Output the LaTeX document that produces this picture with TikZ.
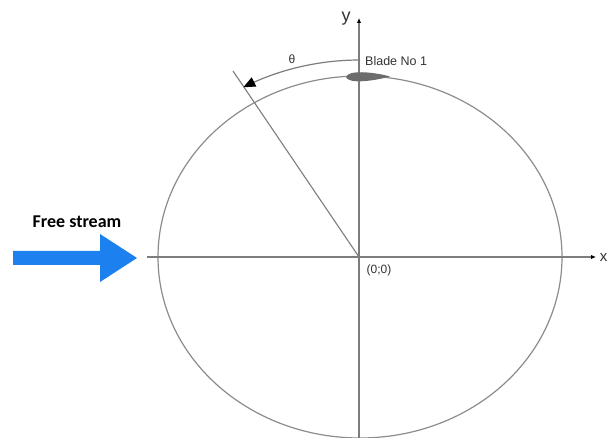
\documentclass[tikz,border=0pt]{standalone}
\usepackage{fontspec}
\setmainfont{Liberation Sans}
\newfontfamily\calib{Carlito}
\usetikzlibrary{arrows.meta}
\definecolor{axisgray}{RGB}{125,125,125}
\definecolor{circgray}{RGB}{140,140,140}
\definecolor{streamblue}{RGB}{28,128,238}
\begin{document}
\begin{tikzpicture}[x=1pt,y=-1pt,
  axisline/.style={draw=axisgray,line width=1.3pt},
  lbl/.style={inner sep=0pt,text=black!80},
  ]
\useasboundingbox (0,0) rectangle (608,438);
\fill[white] (0,0) rectangle (608,438);
% rotor circle
\coordinate (O) at (359,257);
\draw[draw=circgray,line width=1.2pt] (360,257) ellipse [x radius=202,y radius=181];
% axes
\coordinate (xs) at (147,257);
\coordinate (xe) at (596,257);
\coordinate (ys) at (359,440);
\coordinate (ye) at (359,18);
\draw[axisline,-{Latex[length=5pt,width=4.5pt,color=black]}] (xs) -- (xe);
\draw[axisline,-{Latex[length=5pt,width=4.5pt,color=black]}] (ys) -- (ye);
% radial line
\coordinate (R) at (233,71);
\draw[draw=axisgray,line width=1.1pt] (O) -- (R);
% blade
\fill[gray!85!black] (346,77) .. controls (348,70) and (372,71.5) .. (390,76.5) .. controls (372,81.5) and (348,84) .. (346,77) -- cycle;
% theta arc
\draw[draw=axisgray,line width=1.2pt,-{Triangle[length=12pt,width=10pt,color=black]}]
  plot[domain=-90:-120.5,samples=40] ({360+230*cos(\x)},{257+197*sin(\x)});
% labels
\node[lbl,font=\fontsize{18}{18}\selectfont] (ylab) at (346,19) {y};
\node[lbl,font=\fontsize{15}{15}\selectfont,anchor=east] (xlab) at (607.5,258) {x};
\node[lbl,font=\fontsize{12}{12}\selectfont] (theta) at (292,59) {θ};
\node[lbl,font=\fontsize{12.5}{12.5}\selectfont,anchor=west] (blade) at (365,61) {Blade No 1};
\node[lbl,font=\fontsize{12}{12}\selectfont] (orig) at (379,270) {(0;0)};
\node[lbl,font=\calib\bfseries\fontsize{18}{18}\selectfont,text=black] (fs) at (77,222) {Free stream};
% free stream arrow
\fill[streamblue] (13,251) -- (100,251) -- (100,234) -- (137,258) -- (100,282) -- (100,265) -- (13,265) -- cycle;
\end{tikzpicture}
\end{document}
